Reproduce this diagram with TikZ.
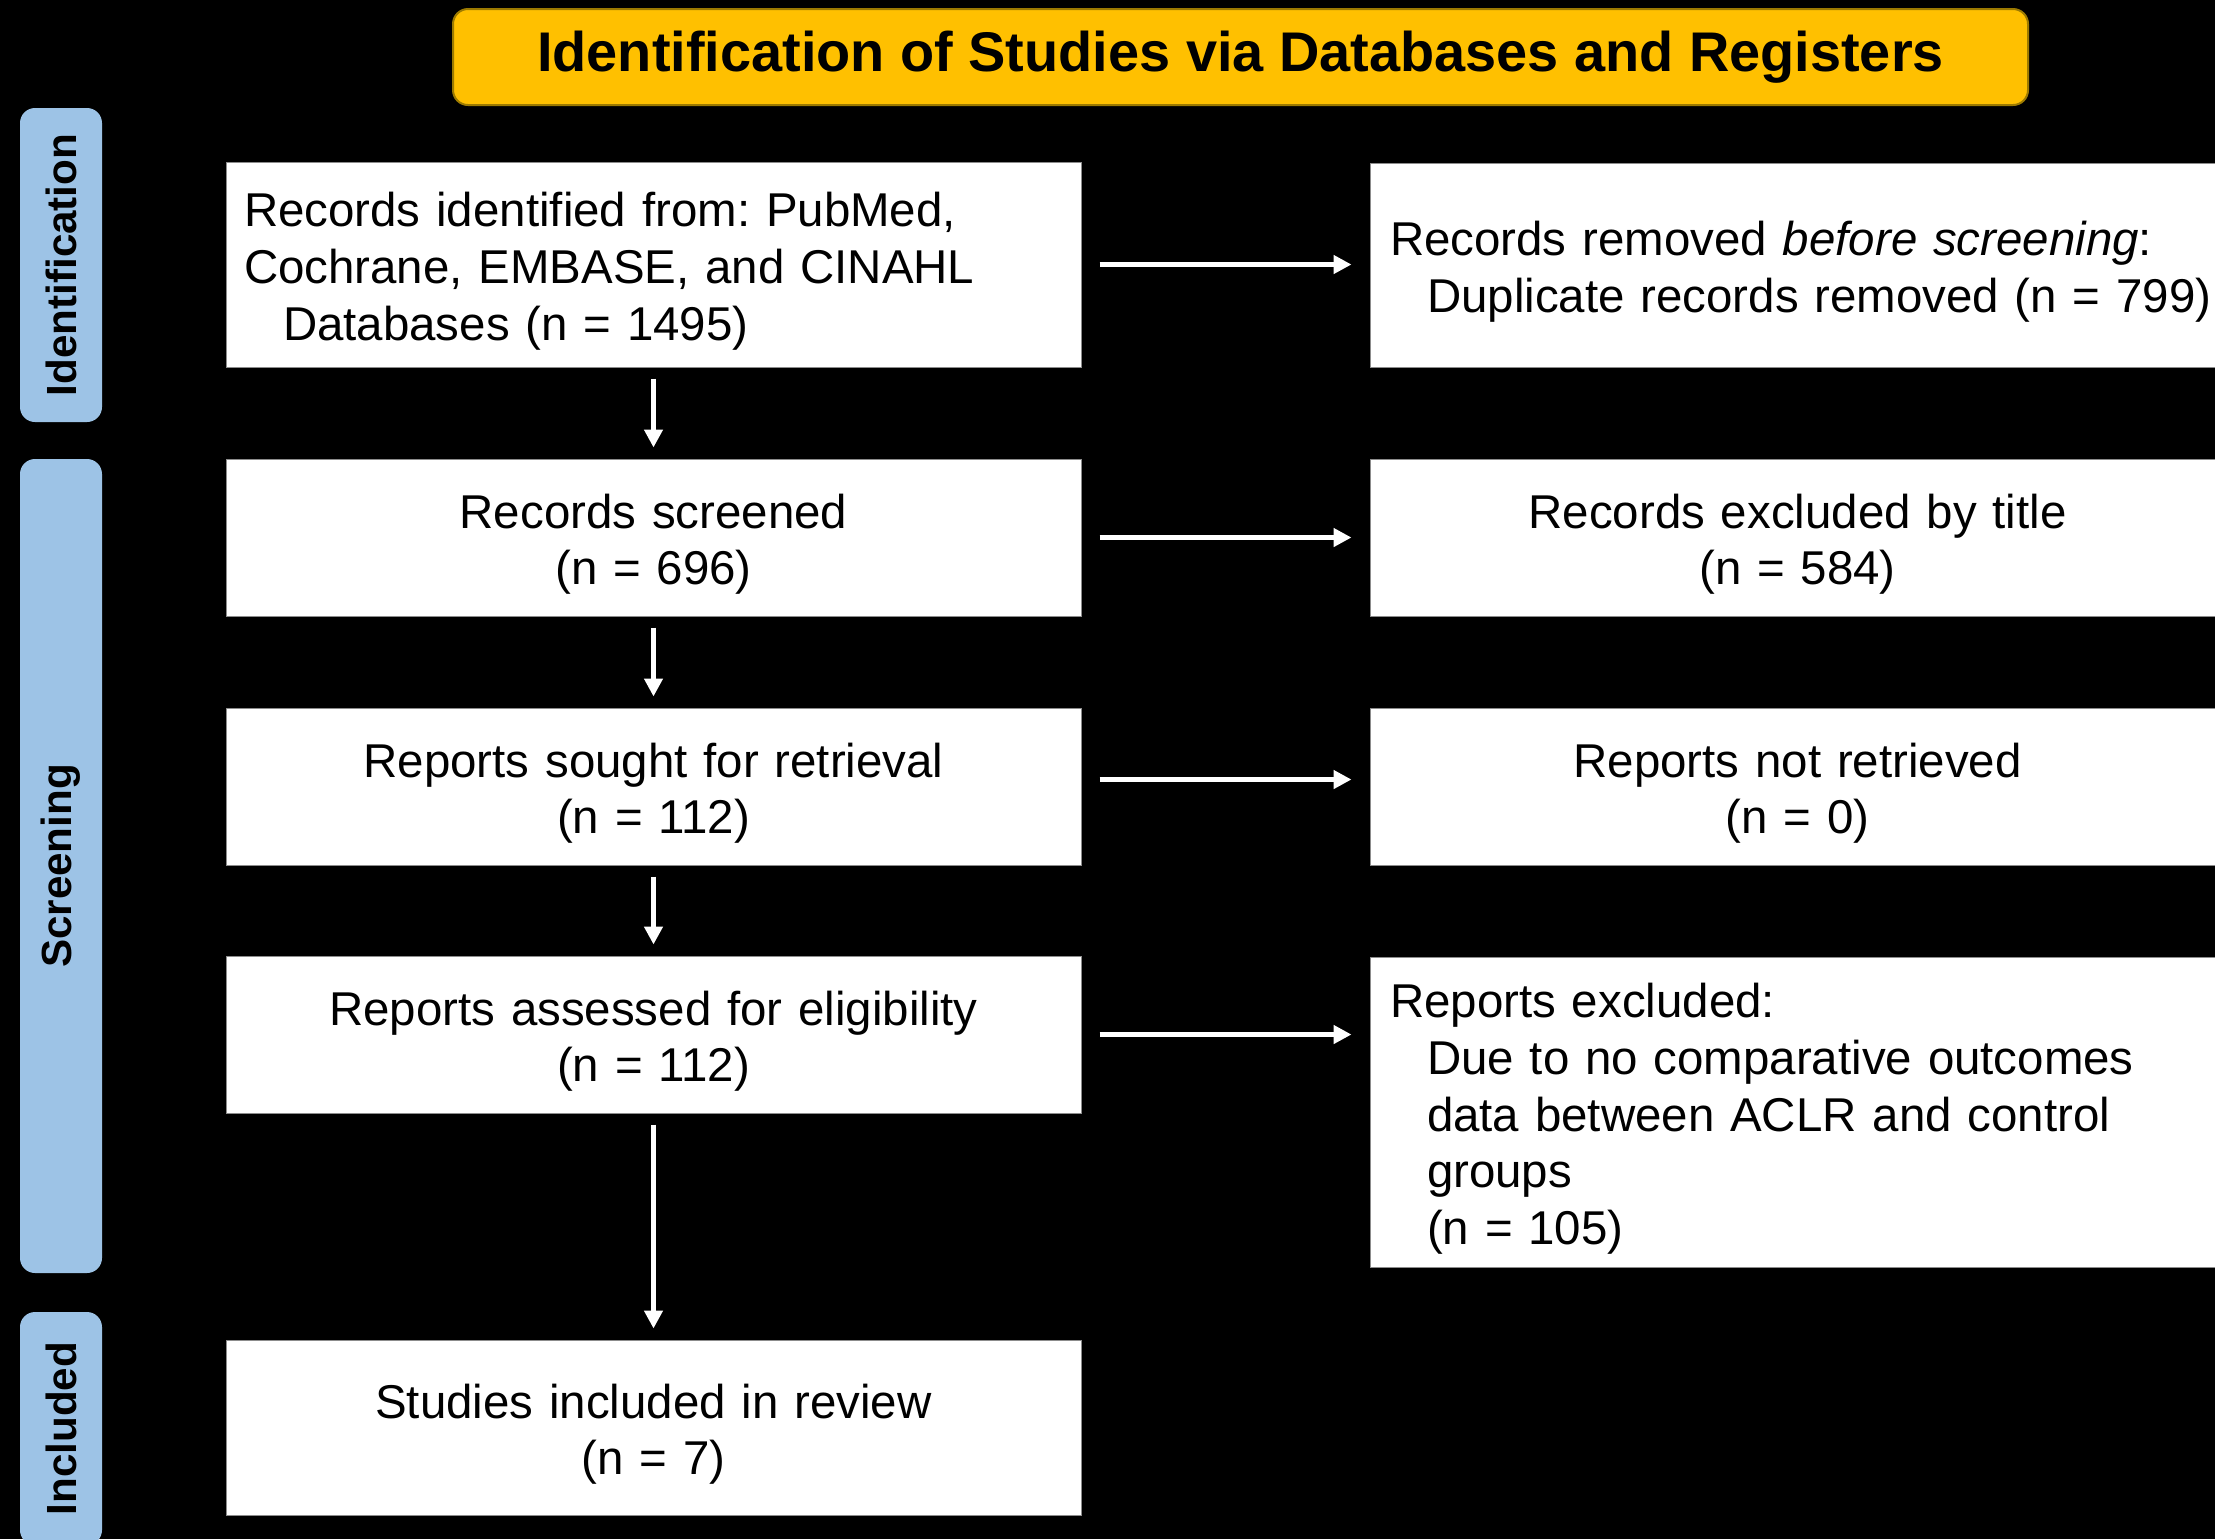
\documentclass[tikz,border=0pt]{standalone}
\usepackage{fontspec}
\setmainfont{Liberation Sans}
\usetikzlibrary{arrows.meta}
\definecolor{titlegold}{HTML}{FFC000}
\definecolor{titleedge}{HTML}{9C7A00}
\definecolor{sideblue}{HTML}{9DC3E6}
\definecolor{boxedge}{HTML}{8C8C8C}
\newcommand\toppad{\rule{0pt}{13.6pt}}
\tikzset{
  txt/.style={font=\fontsize{13.5pt}{16.2pt}\selectfont\frenchspacing,
    execute at begin node={\toppad}},
  boxc/.style={txt, draw=boxedge, line width=0.1mm, fill=white, inner xsep=1.8mm, inner ysep=0pt,
    text width=81.9mm, align=center, minimum height=#1},
  boxl/.style={txt, draw=boxedge, line width=0.1mm, fill=white, inner xsep=1.8mm, inner ysep=0pt,
    text width=81.9mm, align=left, minimum height=#1},
  boxr/.style={txt, draw=boxedge, line width=0.1mm, fill=white, inner xsep=2mm, inner ysep=0pt,
    text width=81.5mm, align=left, minimum height=#1},
  boxrc/.style={txt, draw=boxedge, line width=0.1mm, fill=white, inner xsep=2mm, inner ysep=0pt,
    text width=81.5mm, align=center, minimum height=#1},
  side/.style={fill=sideblue, rounded corners=1.5mm, rotate=90, minimum height=8.2mm,
    minimum width=#1, inner sep=0pt, font=\fontsize{12pt}{14pt}\selectfont\bfseries},
  arr/.style={draw=white, line width=0.5mm, -{Triangle[length=1.8mm,width=1.8mm]}},
  harr/.style={arr, shorten <=1.8mm, shorten >=1.8mm},
  varr/.style={arr, shorten <=1.1mm, shorten >=1.1mm},
}
\begin{document}
\begin{tikzpicture}[x=0.1mm,y=-0.1mm]
\useasboundingbox (0,0) rectangle (2215,1539);
\clip (0,0) rectangle (2215,1539);
\fill[black] (0,0) rectangle (2215,1539);

% title
\node[fill=titlegold, draw=titleedge, line width=0.2mm, rounded corners=1.5mm,
  minimum width=157.5mm, minimum height=9.6mm, inner sep=0pt,
  font=\fontsize{15.9pt}{18pt}\selectfont\bfseries] (title) at (1240.5,57)
  {Identification of Studies via Databases and Registers};

% side labels
\node[side=31.4mm] (sid) at (61,265) {Identification};
\node[side=81.4mm] (sscr) at (61,866) {Screening};
\node[side=23.3mm] (sinc) at (61,1428.5) {Included};

% left column
\node[boxl=20.5mm] (b1) at (653.5,264.5)
  {Records identified from: PubMed,\\Cochrane, EMBASE, and CINAHL\\\hspace*{3.9mm}Databases (n = 1495)};
\node[boxc=15.7mm] (b2) at (653.5,537.5) {Records screened\\(n = 696)};
\node[boxc=15.7mm] (b3) at (653.5,786.5) {Reports sought for retrieval\\(n = 112)};
\node[boxc=15.7mm] (b4) at (653.5,1034.5) {Reports assessed for eligibility\\(n = 112)};
\node[boxc=17.5mm] (b6) at (653.5,1427.5) {Studies included in review\\(n = 7)};

% right column
\node[boxr=20.4mm] (r1) at (1797.5,265)
  {Records removed \textit{before screening}:\\\hspace*{3.7mm}\mbox{Duplicate records removed (n = 799)}};
\node[boxrc=15.7mm] (r2) at (1797.5,537.5) {Records excluded by title\\(n = 584)};
\node[boxrc=15.7mm] (r3) at (1797.5,786.5) {Reports not retrieved\\(n = 0)};
\node[boxr=31mm] (r5) at (1797.5,1112)
  {Reports excluded:\\\hspace*{3.7mm}Due to no comparative outcomes\\\hspace*{3.7mm}data between ACLR and control\\\hspace*{3.7mm}groups\\\hspace*{3.7mm}(n = 105)};

% connectors
\draw[harr] (b1.east) -- (b1.east -| r1.west);
\draw[harr] (b2.east) -- (b2.east -| r2.west);
\draw[harr] ([yshift=0.7mm]b3.east) -- ([yshift=0.7mm]b3.east -| r3.west);
\draw[harr] (b4.east) -- (b4.east -| r5.west);
\draw[varr] (b1.south) -- (b2.north);
\draw[varr] (b2.south) -- (b3.north);
\draw[varr] (b3.south) -- (b4.north);
\draw[varr] (b4.south) -- (b6.north);
\end{tikzpicture}
\end{document}
